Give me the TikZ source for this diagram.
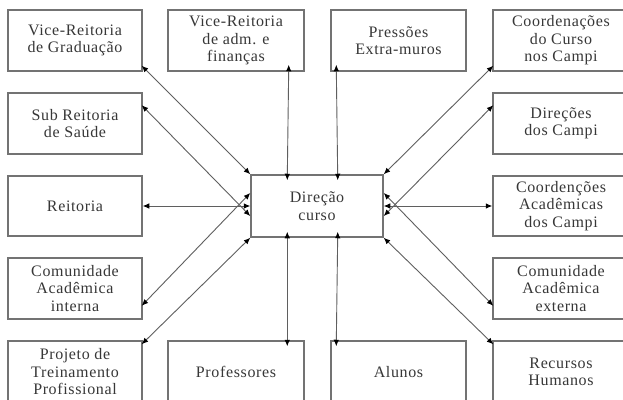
\documentclass[tikz,border=0pt]{standalone}
\usepackage{fontspec}
\setmainfont{Liberation Serif}[LetterSpace=4]
\usetikzlibrary{arrows.meta,calc}
\definecolor{boxgray}{RGB}{115,115,115}
\definecolor{linegray}{RGB}{95,95,95}
\definecolor{txt}{RGB}{55,55,55}
\begin{document}
\begin{tikzpicture}[x=1pt,y=-1pt,
  box/.style={draw=boxgray,line width=1.5pt,rectangle,inner sep=0pt,align=center,
    text=txt,font=\fontsize{16}{17.5}\selectfont},
  link/.style={draw=linegray,line width=0.9pt,{Latex[length=6.5pt,width=5.5pt,color=black]}-{Latex[length=6.5pt,width=5.5pt,color=black]}}]
\useasboundingbox (0,0) rectangle (623,399);
\fill[white] (0,0) rectangle (623,399);
\clip (0,0) rectangle (623,399);
% left column
\node[box,minimum width=134pt,minimum height=61pt] (g)  at (75,40.5)  {Vice-Reitoria\\de Graduação};
\node[box,minimum width=134pt,minimum height=61pt] (s)  at (75,123.5) {Sub Reitoria\\de Saúde};
\node[box,minimum width=134pt,minimum height=60pt] (r)  at (75,206)   {Reitoria};
\node[box,minimum width=134pt,minimum height=61pt] (ci) at (75,288.5) {Comunidade\\Acadêmica\\interna};
\node[box,minimum width=134pt,minimum height=62pt] (p)  at (75,372)   {Projeto de\\Treinamento\\Profissional};
% middle columns
\node[box,minimum width=136pt,minimum height=61pt] (adm) at (236,40.5) {Vice-Reitoria\\de adm. e\\finanças};
\node[box,minimum width=136pt,minimum height=62pt] (pr)  at (236,372)  {Professores};
\node[box,minimum width=135pt,minimum height=61pt] (pe)  at (398.5,40.5) {Pressões\\Extra-muros};
\node[box,minimum width=135pt,minimum height=62pt] (al)  at (398.5,372)  {Alunos};
% right column
\node[box,minimum width=136pt,minimum height=61pt] (cc) at (561,40.5)  {Coordenações\\do Curso\\nos Campi};
\node[box,minimum width=136pt,minimum height=61pt] (dc) at (561,123.5) {Direções\\dos Campi};
\node[box,minimum width=136pt,minimum height=60pt] (ca) at (561,206)   {Coordenções\\Acadêmicas\\dos Campi};
\node[box,minimum width=136pt,minimum height=61pt] (ce) at (561,288.5) {Comunidade\\Acadêmica\\externa};
\node[box,minimum width=136pt,minimum height=62pt] (rh) at (561,372)   {Recursos\\Humanos};
% centre
\node[box,minimum width=132pt,minimum height=62pt] (d) at (317,206) {Direção\\curso};
% connectors, left
\draw[link] ($(g.south east)+(-1,-6)$) -- (d.north west);
\draw[link] ($(s.north east)+(-1,13)$) -- ($(d.west)+(0,10)$);
\draw[link] (r.east) -- (d.west);
\draw[link] ($(ci.south east)+(-1,-14)$) -- ($(d.west)+(0,-13)$);
\draw[link] ($(p.north east)+(-1,4)$) -- (d.south west);
% connectors, vertical
\draw[link] ($(adm.south east)+(-16,-7)$) -- ($(d.north west)+(37,6)$);
\draw[link] ($(pe.south west)+(6,-7)$) -- ($(d.north east)+(-46,6)$);
\draw[link] ($(d.south west)+(37,-6)$) -- ($(pr.north west)+(120,6)$);
\draw[link] ($(d.south east)+(-46,-6)$) -- ($(al.north west)+(6,6)$);
% connectors, right
\draw[link] ($(cc.south west)+(1,-6)$) -- (d.north east);
\draw[link] ($(dc.north west)+(1,13)$) -- ($(d.east)+(0,10)$);
\draw[link] (ca.west) -- (d.east);
\draw[link] ($(ce.south west)+(1,-14)$) -- ($(d.east)+(0,-13)$);
\draw[link] ($(rh.north west)+(1,4)$) -- (d.south east);
\end{tikzpicture}
\end{document}
